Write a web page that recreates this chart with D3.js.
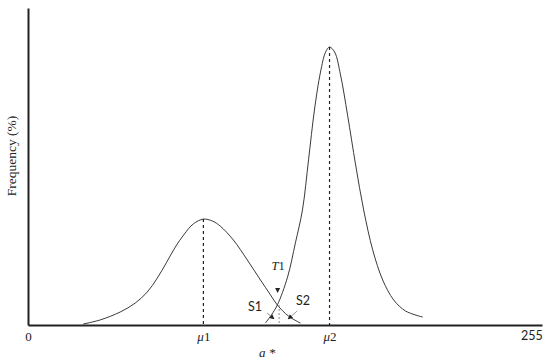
<!DOCTYPE html>
<html>
<head>
<meta charset="utf-8">
<script src="https://cdn.jsdelivr.net/npm/d3@7"></script>
<style>
  html, body { margin: 0; padding: 0; background: #fff; }
  svg { display: block; }
</style>
</head>
<body>
<svg id="chart" width="550" height="363"></svg>
<script>
// ---- data (a* value, frequency %) ----
const class1X = [28.1, 36.8, 47.0, 54.6, 60.8, 65.9, 70.5, 75.1, 79.7, 84.3, 89.4, 94.0, 98.0, 104.7, 111.8, 118.5, 123.6, 127.1, 132.8, 138.9];
const class1Y = [0.3, 1.6, 4.1, 6.9, 10.4, 14.8, 19.6, 24.6, 28.7, 31.9, 33.4, 32.8, 31.2, 26.8, 20.5, 14.2, 9.5, 6.3, 2.8, 0.6];
const class2X = [121.0, 124.1, 127.1, 132.3, 136.3, 139.9, 143.0, 146.0, 149.1, 151.7, 153.7, 156.3, 159.3, 162.9, 167.0, 171.1, 175.7, 180.8, 186.4, 192.5, 201.2];
const class2Y = [0.6, 3.2, 6.3, 15.1, 25.9, 36.3, 52.1, 67.8, 79.8, 86.1, 87.7, 86.1, 78.9, 66.2, 50.5, 36.3, 23.7, 14.2, 7.9, 4.4, 2.5];
const mu1 = 89.4, mu1Peak = 33.4;
const mu2 = 153.7, mu2Peak = 87.7;
const t1 = 128.0, t1Level = 6.3;
const tickValues = [0, mu1, mu2, 255];
const tickLabels = ["0", "μ1", "μ2", "255"];
const xTitle = "a *";
const yTitle = "Frequency (%)";

// ---- scales ----
const svg = d3.select("#chart");
const x = d3.scaleLinear().domain([0, 262]).range([28, 542]);
const y = d3.scaleLinear().domain([0, 100]).range([325, 8]);

const serif = "'Liberation Serif', 'DejaVu Serif', serif";
const sans = "Lato, 'Open Sans', 'Liberation Sans', sans-serif";

// ---- curves ----
const line = d3.line().x(d => x(d[0])).y(d => y(d[1])).curve(d3.curveCatmullRom.alpha(0.5));
const c1 = class1X.map((v, i) => [v, class1Y[i]]);
const c2 = class2X.map((v, i) => [v, class2Y[i]]);
svg.append("path").attr("d", line(c1)).attr("fill", "none").attr("stroke", "#3a3a3a").attr("stroke-width", 1);
svg.append("path").attr("d", line(c2)).attr("fill", "none").attr("stroke", "#3a3a3a").attr("stroke-width", 1);

// ---- dashed mean lines ----
[[mu1, mu1Peak], [mu2, mu2Peak]].forEach(([m, p]) => {
  svg.append("line")
    .attr("x1", x(m)).attr("x2", x(m)).attr("y1", y(p)).attr("y2", y(0))
    .attr("stroke", "#222").attr("stroke-width", 1.2).attr("stroke-dasharray", "3,3");
});
// threshold dashed line
svg.append("line")
  .attr("x1", x(t1)).attr("x2", x(t1)).attr("y1", y(t1Level)).attr("y2", y(0))
  .attr("stroke", "#888").attr("stroke-width", 1).attr("stroke-dasharray", "2,2");

// ---- axes ----
const xAxis = d3.axisBottom(x).tickValues(tickValues).tickSize(0).tickPadding(7)
  .tickFormat(() => "");
const gx = svg.append("g").attr("transform", `translate(0,${y(0)})`).call(xAxis);
gx.select(".domain").attr("stroke", "#222").attr("stroke-width", 2);
gx.selectAll(".tick text").each(function(d, i) {
  const t = d3.select(this).attr("font-family", serif).attr("font-size", 13).attr("fill", "#222");
  const lab = tickLabels[i];
  if (lab.startsWith("μ")) {
    t.append("tspan").attr("font-style", "italic").text("μ");
    t.append("tspan").text(lab.slice(1));
  } else if (i === tickLabels.length - 1) {
    t.attr("font-family", sans).attr("font-size", 12.5).attr("dx", 3).attr("dy", "0.6em").text(lab);
  } else {
    t.text(lab);
  }
});

const yAxis = d3.axisLeft(y).tickValues([]).tickSize(0);
const gy = svg.append("g").attr("transform", `translate(${x(0)},0)`).call(yAxis);
gy.select(".domain").attr("stroke", "#222").attr("stroke-width", 2);

// ---- titles ----
svg.append("text").attr("x", 267).attr("y", 357).attr("text-anchor", "middle")
  .attr("font-family", serif).attr("font-style", "italic").attr("font-size", 13).attr("fill", "#222")
  .text(xTitle);
svg.append("text").attr("transform", "translate(16,156) rotate(-90)").attr("text-anchor", "middle")
  .attr("font-family", serif).attr("font-size", 13.5).attr("fill", "#222")
  .text(yTitle);

// ---- annotations ----
const tx = x(t1);
const tl = svg.append("text").attr("x", tx - 1).attr("y", y(t1Level) - 35).attr("text-anchor", "middle")
  .attr("font-family", serif).attr("font-size", 12.5).attr("fill", "#222");
tl.append("tspan").attr("font-style", "italic").text("T");
tl.append("tspan").text("1");
// small down-pointing triangle above crossing
svg.append("path")
  .attr("d", `M${tx - 4},${y(t1Level) - 17} L${tx + 1},${y(t1Level) - 17} L${tx - 1.5},${y(t1Level) - 12} Z`)
  .attr("fill", "#222");

svg.append("text").attr("x", tx - 24).attr("y", y(t1Level) + 6).attr("text-anchor", "middle")
  .attr("font-family", sans).attr("font-size", 12.5).attr("fill", "#222").text("S1");
svg.append("text").attr("x", tx + 24).attr("y", y(t1Level) + 0).attr("text-anchor", "middle")
  .attr("font-family", sans).attr("font-size", 12.5).attr("fill", "#222").text("S2");

const defs = svg.append("defs");
defs.append("marker").attr("id", "ah").attr("viewBox", "0 0 10 10").attr("refX", 9).attr("refY", 5)
  .attr("markerWidth", 5).attr("markerHeight", 5).attr("orient", "auto")
  .append("path").attr("d", "M0,0 L10,5 L0,10 Z").attr("fill", "#222");
// S1 leader
svg.append("line").attr("x1", tx - 12).attr("y1", y(t1Level) + 8).attr("x2", tx - 5).attr("y2", y(t1Level) + 14)
  .attr("stroke", "#999").attr("stroke-width", 1).attr("marker-end", "url(#ah)");
// S2 leader
svg.append("line").attr("x1", tx + 18).attr("y1", y(t1Level) + 6).attr("x2", tx + 9).attr("y2", y(t1Level) + 14)
  .attr("stroke", "#999").attr("stroke-width", 1).attr("marker-end", "url(#ah)");
</script>
</body>
</html>
